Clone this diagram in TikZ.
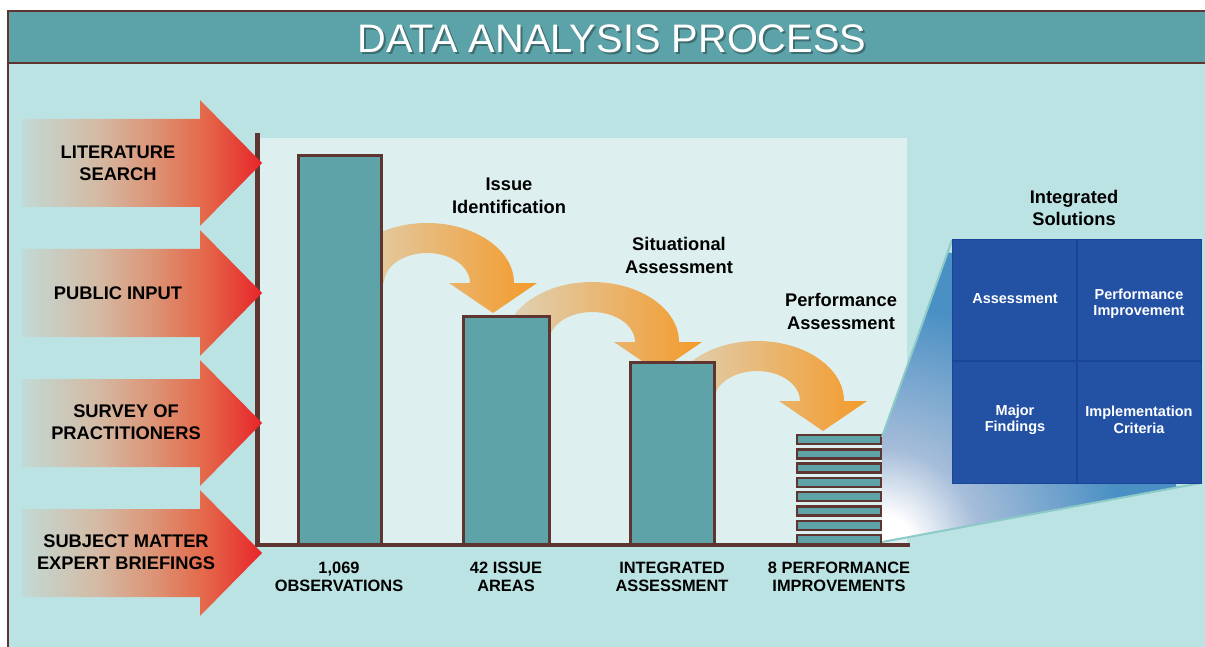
\documentclass[tikz,border=0pt]{standalone}
\usepackage{fontspec}
\setmainfont{Liberation Sans}
\definecolor{frameBrown}{HTML}{5E3530}
\definecolor{headC}{HTML}{5BA3A8}
\definecolor{bodyC}{HTML}{BCE3E3}
\definecolor{panelC}{HTML}{DDF0EF}
\definecolor{barC}{HTML}{5DA3A8}
\definecolor{shadowC}{HTML}{3F6E72}
\definecolor{arrL}{HTML}{C2DAD5}
\definecolor{arrB}{HTML}{D4B9A3}
\definecolor{arrM}{HTML}{DC9577}
\definecolor{arrO}{HTML}{E4684A}
\definecolor{arrR}{HTML}{E8252A}
\definecolor{curvL}{HTML}{DED3BA}
\definecolor{curvR}{HTML}{F49A2A}
\definecolor{gridBlue}{HTML}{2352A4}
\definecolor{gridLine}{HTML}{1A4597}
\definecolor{zoomBlue}{HTML}{4A90C4}
\definecolor{zoomMid}{HTML}{A6BDD9}
\definecolor{zoomEdge}{HTML}{8CCAC8}
\pgfdeclareradialshading{zoomshade}{\pgfpoint{0bp}{0bp}}{color(0bp)=(white); color(2.5bp)=(white); color(8bp)=(zoomMid); color(20bp)=(zoomBlue); color(50bp)=(zoomBlue)}
\pgfdeclarehorizontalshading{leftarr}{100bp}{color(0bp)=(arrL); color(25bp)=(arrL); color(41bp)=(arrB); color(52bp)=(arrM); color(63bp)=(arrO); color(75bp)=(arrR); color(100bp)=(arrR)}
\newcommand\mkleftarrow[1]{%
  \shade[shading=leftarr]
    (22,{#1-44}) -- (200,{#1-44}) -- (200,{#1-63}) -- (262,#1) -- (200,{#1+63}) -- (200,{#1+44}) -- (22,{#1+44}) -- cycle;}
\newcommand\mkcurvarrow[2]{%
  \shade[left color=curvL, right color=curvR]
    ({#1-87},#2) arc[start angle=180, end angle=360, x radius=87, y radius=60]
    -- ({#1+110},#2) -- ({#1+66},{#2+30}) -- ({#1+22},#2) -- ({#1+43},#2)
    arc[start angle=0, end angle=-180, x radius=43, y radius=30] -- cycle;}
\begin{document}
\begin{tikzpicture}[x=1pt,y=-1pt,
  lbl/.style={font=\fontsize{18.3}{22}\selectfont\bfseries, align=center, text=black, inner sep=0pt},
  axlbl/.style={font=\fontsize{16.4}{18}\selectfont\bfseries, align=center, text=black, inner sep=0pt},
  gridlbl/.style={font=\fontsize{14.5}{16.5}\selectfont\bfseries, align=center, text=white, inner sep=0pt},
  barbox/.style={fill=barC, draw=frameBrown, line width=3},
  stackbox/.style={fill=barC, draw=frameBrown, line width=2.5},
  axisline/.style={draw=frameBrown, line width=4.5}]
\useasboundingbox (0,0) rectangle (1205,647);
\clip (0,0) rectangle (1205,647);
\fill[white] (0,0) rectangle (1205,647);
% frame
\fill[bodyC] (8,11) rectangle (1215,660);
\fill[headC] (8,11) rectangle (1215,63);
\draw[frameBrown, line width=2.5] (8,660) -- (8,11) -- (1215,11);
\draw[frameBrown, line width=2.5] (8,63) -- (1215,63);
\node[font=\fontsize{39.8}{39.8}\selectfont, text=shadowC, inner sep=0pt] (titleshadow) at (613.8,40.8) {DATA ANALYSIS PROCESS};
\node[font=\fontsize{39.8}{39.8}\selectfont, text=white, inner sep=0pt] (title) at (612,39) {DATA ANALYSIS PROCESS};
% inner panel
\fill[panelC] (259,138) rectangle (907,545);
% curved arrows
\mkcurvarrow{427}{283}
\mkcurvarrow{592}{342}
\mkcurvarrow{757}{401}
% bars
\draw[barbox] (298,156) rectangle (381,545);
\draw[barbox] (463,316) rectangle (549,545);
\draw[barbox] (630,362) rectangle (714,545);
\foreach \t in {435,449.3,463.6,477.9,492.2,506.5,520.8,535.1}
  \draw[stackbox] (797,\t) rectangle (881,{\t+9});
% axes
\draw[axisline] (257.5,133) -- (257.5,547);
\draw[axisline] (255.5,545) -- (910,545);
% left arrows
\mkleftarrow{163}
\mkleftarrow{293}
\mkleftarrow{423}
\mkleftarrow{553}
% zoom trapezoid
\begin{scope}
  \clip (882,437) -- (952,240) -- (1201,240) -- (1201,483) -- (882,542) -- cycle;
  \shade[shading=zoomshade] (882,545) circle (300);
\end{scope}
\draw[zoomEdge, line width=2] (882,437) -- (952,240);
\draw[zoomEdge, line width=2] (882,542) -- (1201,483);
% grid
\fill[gridBlue] (952,240) rectangle (1201,483);
\draw[gridLine, line width=1.5] (1077,240) -- (1077,483);
\draw[gridLine, line width=1.5] (952,361) -- (1201,361);
\draw[gridLine, line width=1] (952,240) rectangle (1201,483);
% texts
\node[lbl] (lit) at (118,163) {LITERATURE\\SEARCH};
\node[lbl] (pub) at (118,293) {PUBLIC INPUT};
\node[lbl] (sur) at (126,422) {SURVEY OF\\PRACTITIONERS};
\node[lbl] (sme) at (126,552) {SUBJECT MATTER\\EXPERT BRIEFINGS};
\node[lbl, font=\fontsize{18.3}{23}\selectfont\bfseries] (issue) at (509,196) {Issue\\Identification};
\node[lbl, font=\fontsize{18.3}{23}\selectfont\bfseries] (situ) at (679,255) {Situational\\Assessment};
\node[lbl, font=\fontsize{18.3}{22.5}\selectfont\bfseries] (perf) at (841,311.5) {Performance\\Assessment};
\node[lbl, font=\fontsize{18.3}{21.5}\selectfont\bfseries] (integ) at (1074,208) {Integrated\\Solutions};
\node[axlbl] (obs) at (339,576.5) {1,069\\OBSERVATIONS};
\node[axlbl] (areas) at (506,576.5) {42 ISSUE\\AREAS};
\node[axlbl] (ia) at (672,576.5) {INTEGRATED\\ASSESSMENT};
\node[axlbl] (pi) at (839,576.5) {8 PERFORMANCE\\IMPROVEMENTS};
\node[gridlbl] (g1) at (1015,299) {Assessment};
\node[gridlbl] (g2) at (1139,304) {Performance\\Improvement};
\node[gridlbl] (g3) at (1015,420) {Major\\Findings};
\node[gridlbl] (g4) at (1139,420) {Implementation\\Criteria};
\end{tikzpicture}
\end{document}
